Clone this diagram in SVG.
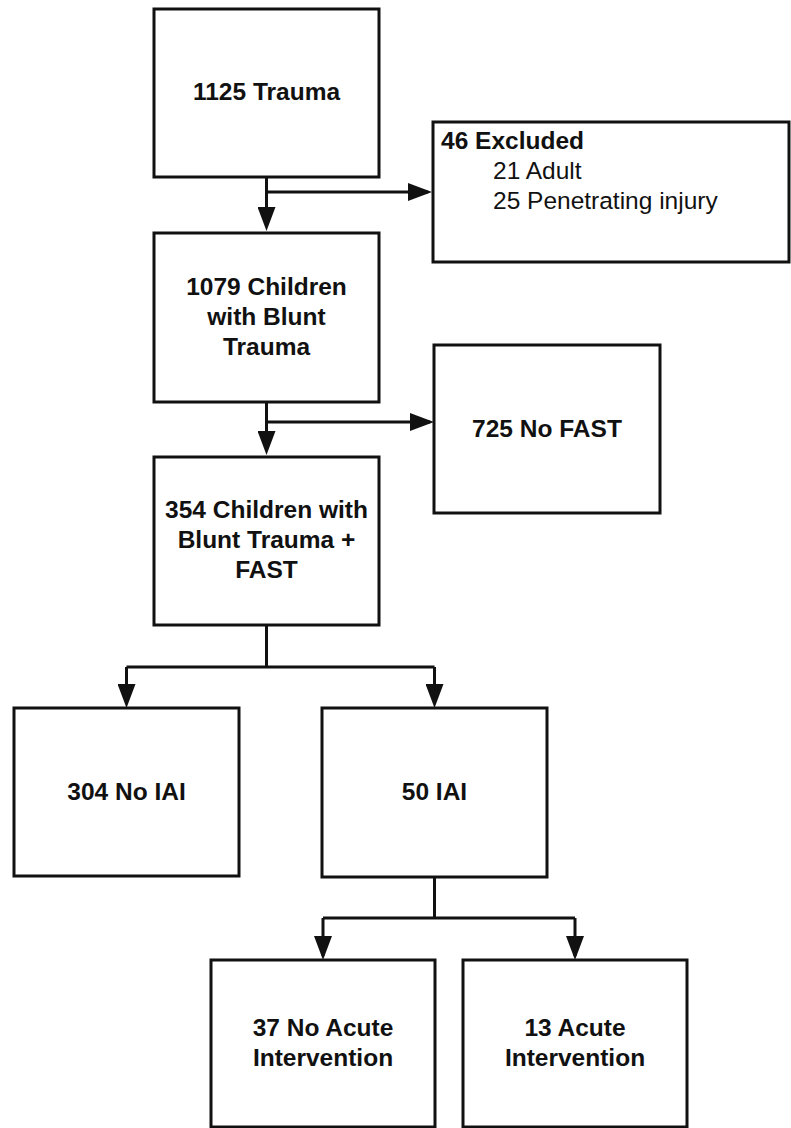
<svg xmlns="http://www.w3.org/2000/svg" width="791" height="1128" viewBox="0 0 791 1128">
<defs>
<marker id="ah" markerUnits="userSpaceOnUse" markerWidth="24" markerHeight="18" refX="20" refY="9" orient="auto">
<path d="M0,0 L24,9 L0,18 Z" fill="#111"/>
</marker>
<style>
.box{fill:#fff;stroke:#111;stroke-width:3}
.c{fill:none;stroke:#111;stroke-width:3}
.a{marker-end:url(#ah)}
.t{font-family:"Liberation Sans",Arial,sans-serif;font-size:24.5px;font-weight:bold;fill:#111;text-anchor:middle}
.l{font-family:"Liberation Sans",Arial,sans-serif;font-size:24.5px;fill:#111}
.lb{font-weight:bold}
</style>
</defs>
<rect width="791" height="1128" fill="#fff"/>
<g id="connectors">
<path class="c a" d="M266.5,177 V227"/>
<path class="c a" d="M266.5,192 H428"/>
<path class="c a" d="M266.5,402 V451"/>
<path class="c a" d="M266.5,422 H430"/>
<path class="c" d="M266.5,625 V667 M126.5,667 H434.5"/>
<path class="c a" d="M126.5,667 V704"/>
<path class="c a" d="M434.5,667 V704"/>
<path class="c" d="M434.5,877 V918 M323,918 H575"/>
<path class="c a" d="M323,918 V956"/>
<path class="c a" d="M575,918 V956"/>
</g>
<g id="n1"><rect class="box" x="154" y="9" width="225" height="168"/><text class="t" x="266.5" y="100">1125 Trauma</text></g>
<g id="n2"><rect class="box" x="433" y="122" width="356" height="140"/>
<text class="l lb" x="441" y="149">46 Excluded</text>
<text class="l" x="493" y="179">21 Adult</text>
<text class="l" x="493" y="209">25 Penetrating injury</text></g>
<g id="n3"><rect class="box" x="154" y="233" width="225" height="169"/>
<text class="t" x="266.5" y="295">1079 Children</text>
<text class="t" x="266.5" y="325">with Blunt</text>
<text class="t" x="266.5" y="355">Trauma</text></g>
<g id="n4"><rect class="box" x="434" y="345" width="226" height="168"/><text class="t" x="547" y="437">725 No FAST</text></g>
<g id="n5"><rect class="box" x="154" y="457" width="225" height="168"/>
<text class="t" x="266.5" y="518">354 Children with</text>
<text class="t" x="266.5" y="548">Blunt Trauma +</text>
<text class="t" x="266.5" y="578">FAST</text></g>
<g id="n6"><rect class="box" x="14" y="708" width="225" height="168"/><text class="t" x="126.5" y="800">304 No IAI</text></g>
<g id="n7"><rect class="box" x="322" y="708" width="225" height="169"/><text class="t" x="434.5" y="800">50 IAI</text></g>
<g id="n8"><rect class="box" x="211" y="960" width="224" height="167"/>
<text class="t" x="323" y="1036">37 No Acute</text>
<text class="t" x="323" y="1066">Intervention</text></g>
<g id="n9"><rect class="box" x="463" y="960" width="224" height="167"/>
<text class="t" x="575" y="1036">13 Acute</text>
<text class="t" x="575" y="1066">Intervention</text></g>
</svg>
